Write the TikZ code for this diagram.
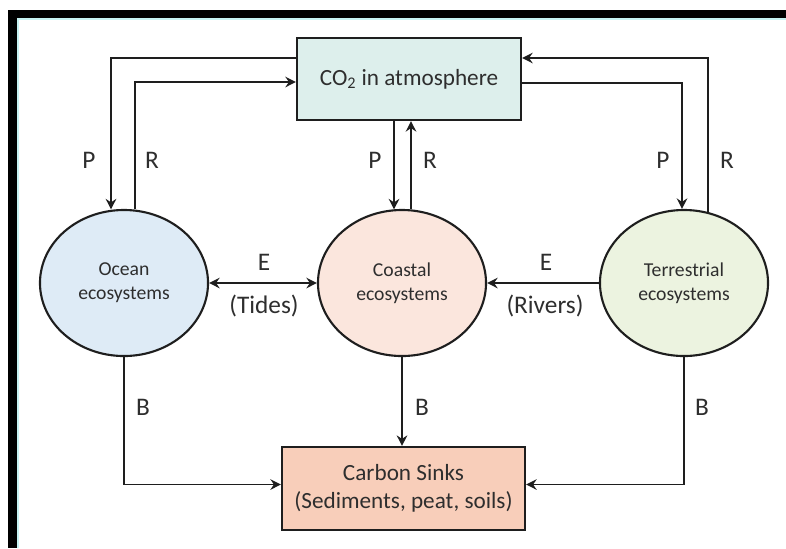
\documentclass[tikz,border=0pt]{standalone}
\usepackage{fontspec}
\setmainfont{Carlito}
\usetikzlibrary{arrows.meta,calc,shapes.geometric}
\definecolor{txtgray}{HTML}{2E2E2E}
\definecolor{linegray}{HTML}{1E1E1E}
\definecolor{atmfill}{HTML}{DDEFEC}
\definecolor{sinkfill}{HTML}{F8CEBA}
\definecolor{oceanfill}{HTML}{DEEBF6}
\definecolor{coastfill}{HTML}{FBE6DD}
\definecolor{landfill}{HTML}{ECF3E0}
\definecolor{framecyan}{HTML}{C6F2F2}

\begin{document}
\begin{tikzpicture} [x = 0.025cm, y = -0.025cm,
  every node/.style = {text = txtgray, font = \fontsize{16.5}{19.5}\selectfont},
  box/.style = {draw = linegray, line width = 1.5pt, align = center, inner sep = 0pt},
  eco/.style = {ellipse, draw = linegray, line width = 1.5pt, align = center, inner sep = 0pt,
    minimum width = 4.2cm, minimum height = 3.65cm, font = \fontsize{14}{17}\selectfont},
  flow/.style = {draw = linegray, line width = 1.4pt, -{Stealth[length = 7.5pt, width = 7.5pt, inset = 2.5pt]}},
  both/.style = {flow, {Stealth[length = 7.5pt, width = 7.5pt, inset = 2.5pt]}-{Stealth[length = 7.5pt, width = 7.5pt, inset = 2.5pt]}},
  lbl/.style = {font = \fontsize{18}{21}\selectfont, inner sep = 0pt}]
\useasboundingbox (0, 0) rectangle (786, 548);
\fill[black] (8, 10) rectangle (786, 18);
\fill[black] (8, 10) rectangle (17, 548);
\draw[framecyan, line width = 0.8pt] (18, 548) -- (18, 19) -- (786, 19);

\node[box, fill = atmfill, minimum width = 5.6cm, minimum height = 2.05cm] (co2) at (409, 79) {CO\textsubscript{2} in atmosphere};
\node[box, fill = sinkfill, minimum width = 6.075cm, minimum height = 2.075cm] (sinks) at (403.5, 488.5) {Carbon Sinks\\(Sediments, peat, soils)};
\node[eco, fill = oceanfill] (ocean) at (124, 283) {Ocean\\ecosystems};
\node[eco, fill = coastfill] (coastal) at (402, 283) {Coastal\\ecosystems};
\node[eco, fill = landfill] (land) at (684, 283) {Terrestrial\\ecosystems};

\coordinate (oP) at ($(ocean.north) + (-13, 0.5)$);
\coordinate (oR) at ($(ocean.north) + (11, 0.5)$);
\coordinate (cP) at ($(coastal.north) + (-8, 0.5)$);
\coordinate (cR) at ($(coastal.north) + (9, 0.5)$);
\coordinate (tP) at ($(land.north) + (-2, 0)$);
\coordinate (tR) at ($(land.north) + (24, 3)$);

\draw[flow] ($(co2.west) + (0, -21)$) -| (oP);
\draw[flow] (oR) |- ($(co2.west) + (0, 3)$);
\draw[flow] (co2.south -| cP) -- (cP);
\draw[flow] (cR) -- (co2.south -| cR);
\draw[flow] ($(co2.east) + (0, 4)$) -| (tP);
\draw[flow] (tR) |- ($(co2.east) + (0, -21)$);

\draw[both] (ocean.east) -- (coastal.west);
\draw[flow] (land.west) -- (coastal.east);

\draw[flow] (ocean.south) |- ($(sinks.west) + (0, -4)$);
\draw[flow] (coastal.south) -- (sinks.north -| coastal.south);
\draw[flow] (land.south) |- ($(sinks.east) + (0, -4)$);

\node[lbl] (p1) at (89, 160) {P};
\node[lbl] (r1) at (152, 160) {R};
\node[lbl] (p2) at (375, 160) {P};
\node[lbl] (r2) at (430, 160) {R};
\node[lbl] (p3) at (663, 160) {P};
\node[lbl] (r3) at (727, 160) {R};
\node[lbl] (e1) at (264, 262) {E};
\node[lbl] (tides) at (264, 306) {(Tides)};
\node[lbl] (e2) at (546, 262) {E};
\node[lbl] (rivers) at (545, 306) {(Rivers)};
\node[lbl] (b1) at (143, 407) {B};
\node[lbl] (b2) at (422, 407) {B};
\node[lbl] (b3) at (702, 407) {B};
\end{tikzpicture}
\end{document}
